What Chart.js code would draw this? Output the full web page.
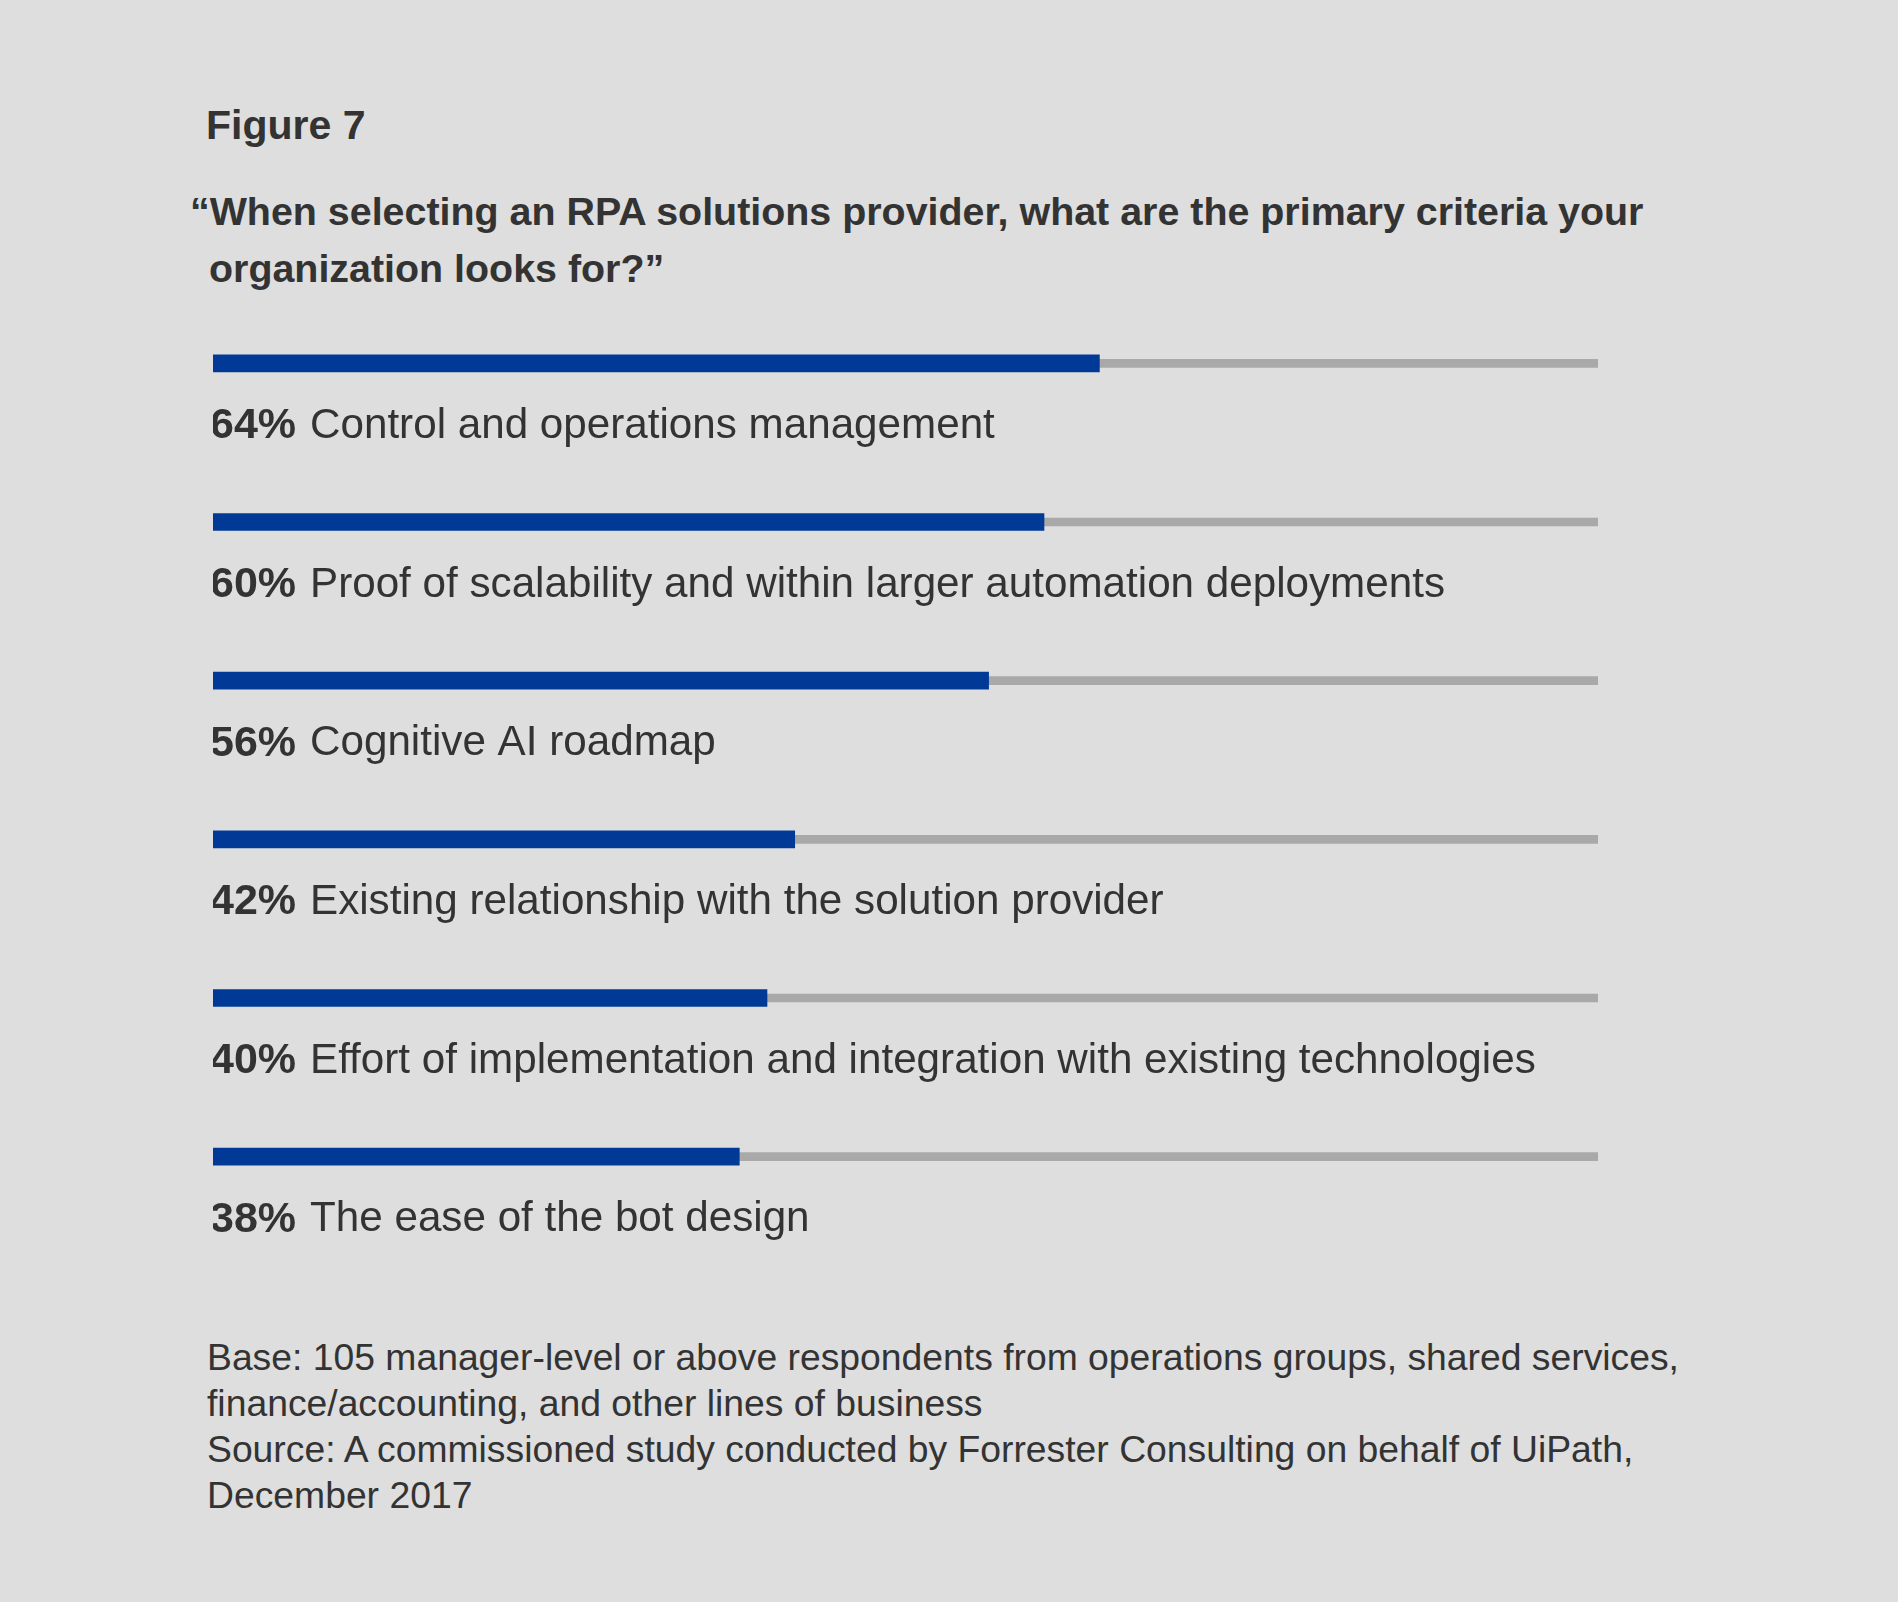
<!DOCTYPE html>
<html>
<head>
<meta charset="utf-8">
<script src="https://cdn.jsdelivr.net/npm/chart.js@4"></script>
<style>
  html, body { margin: 0; padding: 0; background: #dedede; }
  body { width: 1898px; height: 1602px; position: relative; overflow: hidden;
         font-family: "Liberation Sans", Arial, sans-serif; color: #333; }
  .fig { position: absolute; left: 206px; top: 105px; font-size: 41px; font-weight: bold; line-height: 1; }
  .question { position: absolute; left: 190px; top: 183px; font-size: 39.4px; font-weight: bold; line-height: 57px; }
  .question .l2 { padding-left: 19px; }
  .notes { position: absolute; left: 207px; top: 1334px; font-size: 37.3px; line-height: 46px; }
  #wrap { position: absolute; left: 213px; top: 284px; width: 1400px; height: 1000px; }
</style>
</head>
<body>
<div class="fig">Figure 7</div>
<div class="question">“When selecting an RPA solutions provider, what are the primary criteria your<br><span class="l2">organization looks for?”</span></div>
<div class="notes">Base: 105 manager-level or above respondents from operations groups, shared services,<br>finance/accounting, and other lines of business<br>Source: A commissioned study conducted by Forrester Consulting on behalf of UiPath,<br>December 2017</div>
<div id="wrap"><canvas id="chart"></canvas></div>
<script>
// survey results
const criteria = [
    'Control and operations management',
    'Proof of scalability and within larger automation deployments',
    'Cognitive AI roadmap',
    'Existing relationship with the solution provider',
    'Effort of implementation and integration with existing technologies',
    'The ease of the bot design'
];
const percents = [64, 60, 56, 42, 40, 38];
const fullScale = criteria.map(() => 100);

// draws "64% Label" under each bar, percent in bold
const rowLabels = {
    id: 'rowLabels',
    afterDatasetsDraw(chart) {
        const ctx = chart.ctx;
        const x = chart.scales.x.getPixelForValue(0) - 3;
        ctx.save();
        ctx.fillStyle = '#333';
        ctx.textBaseline = 'middle';
        criteria.forEach((name, i) => {
            const y = chart.scales.y.getPixelForValue(i) + 63;
            const pct = percents[i] + '%';
            ctx.font = 'bold 43px "Liberation Sans", Arial, sans-serif';
            ctx.fillText(pct, x, y);
            const w = ctx.measureText(pct + ' ').width;
            ctx.font = '42.2px "Liberation Sans", Arial, sans-serif';
            ctx.fillText(name, x + w + 2, y);
        });
        ctx.restore();
    }
};

const chart = new Chart(document.getElementById('chart'), {
    type: 'bar',
    data: {
        labels: criteria,
        datasets: [{
            data: percents,
            backgroundColor: '#003a96',
            barThickness: 17,
            grouped: false,
            order: 0
        }, {
            data: fullScale,
            backgroundColor: '#a9a9a9',
            barThickness: 8,
            grouped: false,
            order: 1
        }]
    },
    options: {
        indexAxis: 'y',
        responsive: true,
        maintainAspectRatio: false,
        animation: false,
        layout: { padding: { left: 0, right: 15, top: 0, bottom: 48 } },
        plugins: { legend: { display: false }, tooltip: { enabled: false } },
        scales: {
            x: { min: 0, max: 100, display: false },
            y: { display: false }
        }
    },
    plugins: [rowLabels]
});
</script>
</body>
</html>
